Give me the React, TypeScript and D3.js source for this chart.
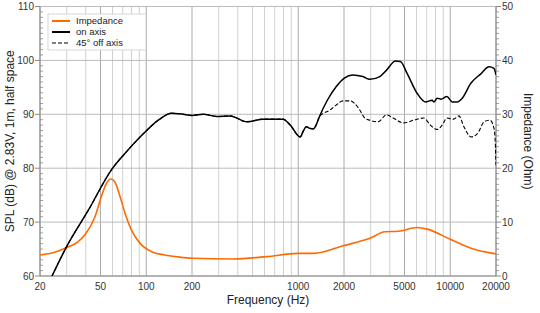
import * as d3 from 'd3';

const W = 540;
const H = 313;
const MARGIN = { top: 6.5, right: 44, bottom: 37, left: 40 };
const FONT = '"Liberation Sans", Arial, sans-serif';

// on-axis SPL (Hz, dB)
const onAxis: [number, number][] = [
    [24, 60], [30, 65.5], [41.6, 72.2], [59, 79.7], [76, 83.4], [99, 86.8], [120, 88.9],
    [147, 90.2], [166, 90.1], [200, 89.8], [237, 90.0], [292, 89.6], [356, 89.7],
    [460, 88.6], [586, 89.1], [651, 89.1], [794, 89.1], [886, 88.0], [1030, 85.8],
    [1080, 86.9], [1130, 87.7], [1190, 87.4], [1260, 87.3], [1310, 88.0],
    [1380, 89.6], [1560, 92.7], [1775, 95.1], [2010, 96.7], [2280, 97.3], [2660, 97.0],
    [2960, 96.5], [3440, 97.0], [3810, 98.2], [4360, 99.9], [4700, 99.8], [5200, 97.6],
    [6050, 93.9], [6860, 92.3], [7600, 92.6], [7800, 92.3], [8200, 93.0], [8700, 92.8],
    [9500, 93.3], [10300, 92.3], [11100, 92.3], [12000, 93.0], [13700, 95.8],
    [15900, 97.5], [18000, 98.8], [19400, 98.5], [20000, 97.3],
];

// 45° off-axis SPL (Hz, dB), same as on-axis below ~1.4 kHz
const offAxisHigh: [number, number][] = [
    [1620, 90.8], [1775, 91.7], [1970, 92.5], [2180, 92.5], [2350, 92.0], [2540, 90.8],
    [2740, 89.3], [2960, 88.9], [3350, 88.6], [3810, 89.9], [4220, 89.3], [4920, 88.4],
    [5730, 88.9], [6690, 89.3], [7400, 88.0], [8200, 87.2], [8850, 88.0], [9500, 89.3],
    [10500, 89.1], [11400, 89.7], [12300, 87.7], [13700, 85.8], [15100, 86.4],
    [16700, 88.6], [18250, 88.9], [19400, 87.4], [19800, 84.5], [20000, 80.6],
];
const offAxis: [number, number][] = [...onAxis.filter((d) => d[0] <= 1380), ...offAxisHigh];

// impedance (Hz, Ohm)
const impedance: [number, number][] = [
    [20, 3.9], [25, 4.4], [30, 5.3], [35, 6.2], [39.4, 7.6], [46, 11.0], [50.6, 14.7],
    [54.7, 17.2], [58.6, 18.0], [62, 17.5], [67.3, 14.7], [72.6, 11.6], [80, 8.5],
    [90.8, 6.1], [108.6, 4.5], [132, 3.9], [166, 3.5], [200, 3.3], [376, 3.15],
    [620, 3.6], [1000, 4.2], [1260, 4.2], [1970, 5.6], [2960, 7.0], [3720, 8.2],
    [4560, 8.3], [6050, 9.0], [7060, 8.7], [10000, 6.8], [14200, 5.0], [20000, 4.1],
];

const freqLabels = [20, 50, 100, 200, 1000, 2000, 5000, 10000, 20000];
const freqGrid = [
    20, 30, 40, 50, 60, 70, 80, 90, 100, 200, 300, 400, 500, 600, 700, 800, 900,
    1000, 2000, 3000, 4000, 5000, 6000, 7000, 8000, 9000, 10000, 20000,
];
const splTicks = [60, 70, 80, 90, 100, 110];
const ohmTicks = [0, 10, 20, 30, 40, 50];

const legendItems = [
    { label: 'Impedance', color: '#ff6a00', dash: '' },
    { label: 'on axis', color: '#000', dash: '' },
    { label: '45° off axis', color: '#000', dash: '4,2' },
];

export default function App() {
    const bw = W - MARGIN.left - MARGIN.right;
    const bh = H - MARGIN.top - MARGIN.bottom;

    const x = d3.scaleLog().domain([20, 20000]).range([0, bw]);
    const y = d3.scaleLinear().domain([60, 110]).range([bh, 0]);
    const yOhm = d3.scaleLinear().domain([0, 50]).range([bh, 0]);

    const splLine = d3
        .line<[number, number]>()
        .x((d) => x(d[0]))
        .y((d) => y(d[1]))
        .curve(d3.curveMonotoneX);
    const ohmLine = d3
        .line<[number, number]>()
        .x((d) => x(d[0]))
        .y((d) => yOhm(d[1]))
        .curve(d3.curveMonotoneX);

    const minorSpl = d3.range(60, 111, 1).filter((v) => v % 10 !== 0);
    const minorOhm = d3.range(0, 51, 1).filter((v) => v % 10 !== 0);

    return (
        <svg
            width={W}
            height={H}
            style={{ position: 'absolute', left: 0, top: 0, background: '#fff' }}
            fontFamily={FONT}
        >
            <g transform={`translate(${MARGIN.left},${MARGIN.top})`}>
                <defs>
                    <clipPath id="plot">
                        <rect x={0} y={0} width={bw} height={bh} />
                    </clipPath>
                </defs>
                {freqGrid.map((f) => (
                    <line
                        key={'v' + f}
                        x1={x(f)}
                        x2={x(f)}
                        y1={0}
                        y2={bh}
                        stroke={freqLabels.includes(f) ? '#aaa' : '#d0d0d0'}
                        strokeWidth={1}
                    />
                ))}
                {splTicks.map((v) => (
                    <line key={'h' + v} x1={0} x2={bw} y1={y(v)} y2={y(v)} stroke="#bbb" />
                ))}

                {/* axes */}
                <line x1={0} x2={0} y1={0} y2={bh} stroke="#888" />
                <line x1={bw} x2={bw} y1={0} y2={bh} stroke="#888" />
                <line x1={0} x2={bw} y1={bh} y2={bh} stroke="#888" />
                {minorSpl.map((v) => (
                    <line key={'ms' + v} x1={0} x2={3} y1={y(v)} y2={y(v)} stroke="#888" strokeWidth={0.8} />
                ))}
                {minorOhm.map((v) => (
                    <line key={'mo' + v} x1={bw} x2={bw + 3} y1={yOhm(v)} y2={yOhm(v)} stroke="#888" strokeWidth={0.8} />
                ))}
                {splTicks.map((v) => (
                    <g key={'ls' + v}>
                        <line x1={-5} x2={0} y1={y(v)} y2={y(v)} stroke="#888" />
                        <text x={-6} y={y(v)} dy="0.35em" textAnchor="end" fontSize={10} fill="#333">
                            {v}
                        </text>
                    </g>
                ))}
                {ohmTicks.map((v) => (
                    <g key={'lo' + v}>
                        <line x1={bw} x2={bw + 5} y1={yOhm(v)} y2={yOhm(v)} stroke="#888" />
                        <text x={bw + 6} y={yOhm(v)} dy="0.35em" textAnchor="start" fontSize={10} fill="#333">
                            {v}
                        </text>
                    </g>
                ))}
                {freqLabels.map((f) => (
                    <text key={'lf' + f} x={x(f)} y={bh + 14} textAnchor="middle" fontSize={10} fill="#333">
                        {f}
                    </text>
                ))}

                {/* curves */}
                <g clipPath="url(#plot)">
                    <path d={ohmLine(impedance) ?? ''} fill="none" stroke="#ff6a00" strokeWidth={1.6} />
                    <path d={splLine(offAxis) ?? ''} fill="none" stroke="#000" strokeWidth={1.1} strokeDasharray="4,2" />
                    <path d={splLine(onAxis) ?? ''} fill="none" stroke="#000" strokeWidth={1.5} />
                </g>

                {/* legend */}
                <g transform="translate(8,7.5)">
                    <rect x={0} y={0} width={98} height={36} fill="#fff" stroke="#ccc" strokeWidth={0.8} />
                    {legendItems.map((it, i) => (
                        <g key={it.label} transform={`translate(0,${7 + i * 11})`}>
                            <line
                                x1={4}
                                x2={22}
                                y1={0}
                                y2={0}
                                stroke={it.color}
                                strokeWidth={it.dash ? 1.1 : 2}
                                strokeDasharray={it.dash || undefined}
                            />
                            <text x={28} y={0} dy="0.33em" fontSize={9.5} fill="#222">
                                {it.label}
                            </text>
                        </g>
                    ))}
                </g>
            </g>

            {/* axis titles */}
            <text x={MARGIN.left + bw / 2} y={304} textAnchor="middle" fontSize={12} fill="#222">
                Frequency (Hz)
            </text>
            <text
                transform={`translate(14,${MARGIN.top + bh / 2}) rotate(-90)`}
                textAnchor="middle"
                fontSize={12}
                fill="#222"
            >
                SPL (dB) @ 2.83V, 1m, half space
            </text>
            <text
                transform={`translate(524,${MARGIN.top + bh / 2}) rotate(90)`}
                textAnchor="middle"
                fontSize={12}
                fill="#222"
            >
                Impedance (Ohm)
            </text>
        </svg>
    );
}
